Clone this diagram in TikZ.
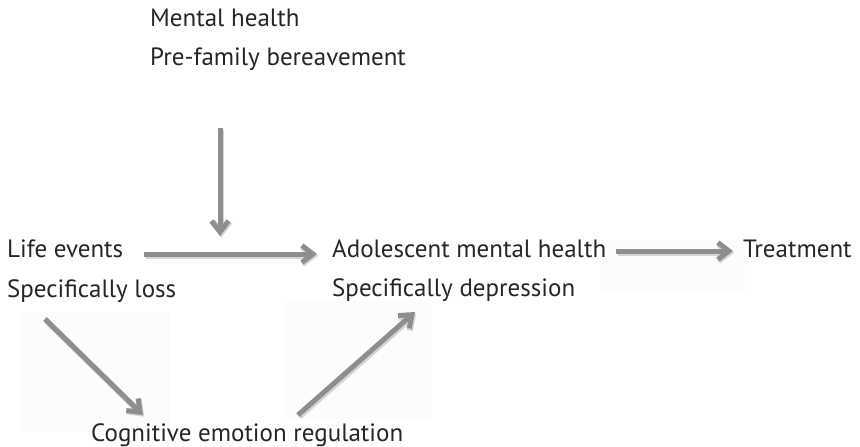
\documentclass[tikz,border=0pt]{standalone}
\usepackage{fontspec}
\setmainfont{PT Sans}
\usetikzlibrary{arrows.meta}
\definecolor{arrowgray}{HTML}{8E8E8E}
\definecolor{shadowgray}{HTML}{D4D4D4}
\definecolor{panel}{HTML}{FCFCFC}
\begin{document}
\begin{tikzpicture}[x=1pt,y=-1pt,
  label/.style={anchor=base west,inner sep=0pt,font=\fontsize{25}{30}\selectfont,text=black!85},
  arr/.style={draw=arrowgray,line width=5pt,-{Straight Barb[length=11pt,width=17pt]}},
  arrshadow/.style={draw=shadowgray,line width=6pt,-{Straight Barb[length=11pt,width=17pt]},transform canvas={xshift=1.2pt,yshift=-1.6pt}}]
  \useasboundingbox (0,0) rectangle (860,447);
  \fill[white] (0,0) rectangle (860,447);
  % faint panels behind the lower arrows
  \fill[panel] (20,312) rectangle (170,432);
  \fill[panel] (285,300) rectangle (432,420);
  \fill[panel] (600,240) rectangle (745,292);

  % labels
  \node[label] (mh)    at (150,27)  {Mental health};
  \node[label] (pre)   at (150,65)  {Pre-family bereavement};
  \node[label] (life)  at (7,257)   {Life events};
  \node[label] (loss)  at (7,297)   {Specifically loss};
  \node[label] (adol)  at (332,257) {Adolescent mental health};
  \node[label] (dep)   at (332,296) {Specifically depression};
  \node[label] (treat) at (743,257) {Treatment};
  \node[label] (cer)   at (91,441)  {Cognitive emotion regulation};

  % connector end points
  \coordinate (modtop) at (220,128);
  \coordinate (lifeout) at ([xshift=21pt,yshift=3pt]life.base east);
  \coordinate (adolin)  at ([xshift=-15pt,yshift=3pt]adol.base west);
  \coordinate (modend)  at (220,236);
  \coordinate (adolout) at ([xshift=10pt,yshift=6pt]adol.base east);
  \coordinate (treatin) at ([xshift=-10pt,yshift=6pt]treat.base west);
  \coordinate (lossout) at (45,319);
  \coordinate (cerin)   at (143,415);
  \coordinate (cerout)  at (298,415);
  \coordinate (depin)   at (415,312);

  % shadows
  \draw[arrshadow] (modtop) -- (modend);
  \draw[arrshadow] (lifeout) -- (adolin);
  \draw[arrshadow] (adolout) -- (treatin);
  \draw[arrshadow] (lossout) -- (cerin);
  \draw[arrshadow] (cerout) -- (depin);

  % connectors
  \draw[arr] (modtop) -- (modend);
  \draw[arr] (lifeout) -- (adolin);
  \draw[arr] (adolout) -- (treatin);
  \draw[arr] (lossout) -- (cerin);
  \draw[arr] (cerout) -- (depin);
\end{tikzpicture}
\end{document}
